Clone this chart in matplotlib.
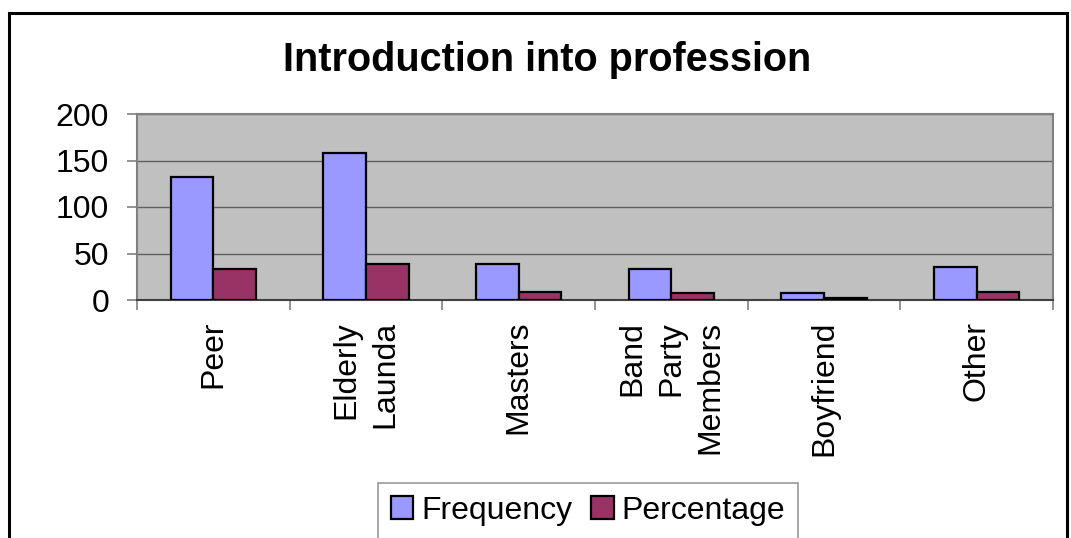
import matplotlib as mpl
mpl.use('Agg')

import numpy as np
import matplotlib.pyplot as plt
from matplotlib.patches import Rectangle

categories = ["Peer", "Elderly\nLaunda", "Masters", "Band\nParty\nMembers", "Boyfriend", "Other"]
frequency = [132, 158, 39, 33, 7, 35]
percentage = [33, 39, 9, 8, 2, 9]
yticks = [0, 50, 100, 150, 200]

plt.rcParams['font.family'] = ['Liberation Sans', 'DejaVu Sans']

fig = plt.figure(figsize=(10.71, 5.38), dpi=100)
ax = fig.add_axes([137/1071, 1-300/538, (1053-137)/1071, (300-114)/538])

x = np.arange(len(categories))
w = 0.28
ax.bar(x - w/2, frequency, width=w, color='#9999FF', edgecolor='black', linewidth=1.6,
       label='Frequency', zorder=3)
ax.bar(x + w/2, percentage, width=w, color='#993366', edgecolor='black', linewidth=1.6,
       label='Percentage', zorder=3)

ax.set_facecolor('#C0C0C0')
ax.set_xlim(-0.5, len(categories) - 0.5)
ax.set_ylim(0, 200)
ax.set_yticks(yticks)
ax.tick_params(axis='y', labelsize=23, length=7, width=1.2, color='#808080', pad=13)
ax.yaxis.grid(True, color='#606060', linewidth=1.0, zorder=1)

# category labels at centres, tick marks at the boundaries
ax.set_xticks(x)
ax.set_xticklabels(categories, rotation=90, fontsize=23, va='top', ha='center',
                   multialignment='right', linespacing=1.4)
ax.tick_params(axis='x', which='major', length=0, pad=15)
ax.set_xticks(np.arange(len(categories) + 1) - 0.5, minor=True)
ax.tick_params(axis='x', which='minor', length=7, width=1.2, color='#808080')

for s in ax.spines.values():
    s.set_color('#808080')
    s.set_linewidth(1.5)
ax.spines['bottom'].set_color('#404040')

fig.text(547/1071, 1-60/538, "Introduction into profession", fontsize=28.5,
         fontweight='bold', ha='center', va='center')

leg = ax.legend(loc='upper center', bbox_to_anchor=(588/1071, 1-483/538),
                bbox_transform=fig.transFigure, ncol=2, fontsize=23, frameon=True,
                fancybox=False, edgecolor='#808080', handlelength=0.7, handleheight=0.7,
                handletextpad=0.25, columnspacing=0.6, borderpad=0.4, borderaxespad=0)
leg.get_frame().set_linewidth(1.2)

# outer chart frame
fig.patches.append(Rectangle((9/1071, -0.2), (1067-9)/1071, 1.2 - 13/538,
                             transform=fig.transFigure, fill=False,
                             edgecolor='black', linewidth=2.2))

fig.savefig("out.png", dpi=100)
